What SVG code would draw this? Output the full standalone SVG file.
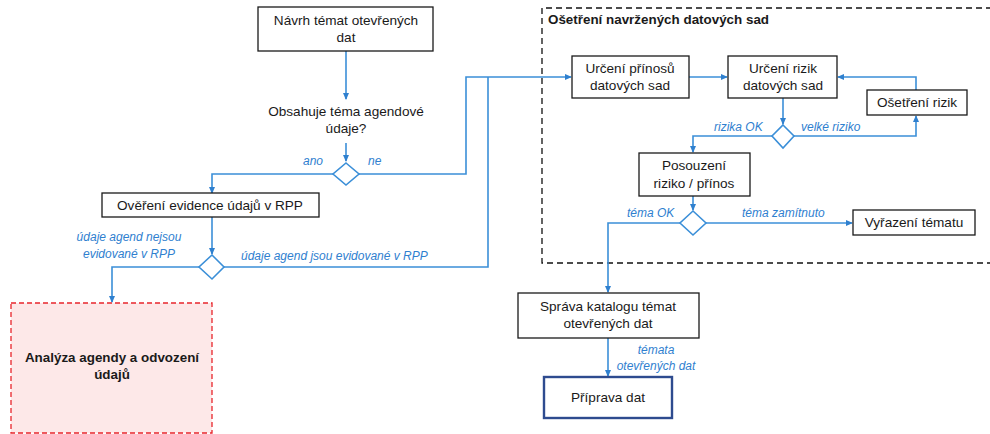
<svg xmlns="http://www.w3.org/2000/svg" width="990" height="434" viewBox="0 0 990 434">
  <defs>
    <marker id="arr" viewBox="0 0 8 8" refX="7" refY="4" markerWidth="7" markerHeight="7" markerUnits="userSpaceOnUse" orient="auto">
      <path d="M0,0.5 L8,4 L0,7.5 z" fill="#2f80cf"/>
    </marker>
    <style>
      .box { fill: #ffffff; stroke: #1a1a1a; stroke-width: 1.3; }
      .t { font-family: "Liberation Sans", Arial, sans-serif; font-size: 13.6px; fill: #1a1a1a; text-anchor: middle; }
      .tb { font-family: "Liberation Sans", Arial, sans-serif; font-size: 13.4px; font-weight: bold; fill: #1a1a1a; }
      .lbl { font-family: "Liberation Sans", Arial, sans-serif; font-size: 12px; font-style: italic; fill: #2f80cf; }
      .ln { fill: none; stroke: #3b8fd8; stroke-width: 1.6; }
      .dia { fill: #ffffff; stroke: #3b8fd8; stroke-width: 1.6; }
    </style>
  </defs>

  <!-- dashed container: treatment of proposed data sets -->
  <g id="container">
    <path d="M992,8 H542 V263 H992" fill="none" stroke="#111" stroke-width="1.3" stroke-dasharray="6,4"/>
    <text class="tb" x="548" y="24">Ošetření navržených datových sad</text>
  </g>

  <!-- connectors -->
  <g id="connectors">
    <path class="ln" d="M346,51 V99" marker-end="url(#arr)"/>
    <path class="ln" d="M346,143 V161" marker-end="url(#arr)"/>
    <path class="ln" d="M333,174 H212 V193" marker-end="url(#arr)"/>
    <path class="ln" d="M359,174 H466 V77 H571" marker-end="url(#arr)"/>
    <path class="ln" d="M212,217 V254" marker-end="url(#arr)"/>
    <path class="ln" d="M199,267 H112 V302" marker-end="url(#arr)"/>
    <path class="ln" d="M224,267 H488 V77"/>
    <path class="ln" d="M689,77 H727" marker-end="url(#arr)"/>
    <path class="ln" d="M916,90 V77 H838" marker-end="url(#arr)"/>
    <path class="ln" d="M783,98 V124" marker-end="url(#arr)"/>
    <path class="ln" d="M794,136 H916 V116" marker-end="url(#arr)"/>
    <path class="ln" d="M772,136 H693 V152" marker-end="url(#arr)"/>
    <path class="ln" d="M693,196 V210" marker-end="url(#arr)"/>
    <path class="ln" d="M706,223 H852" marker-end="url(#arr)"/>
    <path class="ln" d="M680,223 H608 V292" marker-end="url(#arr)"/>
    <path class="ln" d="M608,338 V376" marker-end="url(#arr)"/>

    <text class="lbl" x="303" y="165">ano</text>
    <text class="lbl" x="368" y="165">ne</text>
    <text class="lbl" x="129" y="241" text-anchor="middle">údaje agend nejsou</text>
    <text class="lbl" x="129" y="258" text-anchor="middle">evidované v RPP</text>
    <text class="lbl" x="241" y="260">údaje agend jsou evidované v RPP</text>
    <text class="lbl" x="714" y="131">rizika OK</text>
    <text class="lbl" x="801" y="131">velké riziko</text>
    <text class="lbl" x="627" y="217">téma OK</text>
    <text class="lbl" x="742" y="217">téma zamítnuto</text>
    <text class="lbl" x="656" y="354" text-anchor="middle">témata</text>
    <text class="lbl" x="656" y="370" text-anchor="middle">otevřených dat</text>
  </g>

  <g id="n-navrh">
    <rect class="box" x="258" y="7" width="175" height="44"/>
    <text class="t" x="346" y="25">Návrh témat otevřených</text>
    <text class="t" x="346" y="42">dat</text>
  </g>

  <g id="n-otazka">
    <text class="t" x="346" y="116">Obsahuje téma agendové</text>
    <text class="t" x="346" y="133">údaje?</text>
  </g>

  <g id="d-agendove">
    <polygon class="dia" points="346,163 359,174 346,185 333,174"/>
  </g>

  <g id="n-overeni">
    <rect class="box" x="102" y="193" width="217" height="24"/>
    <text class="t" x="210" y="210">Ověření evidence údajů v RPP</text>
  </g>

  <g id="d-rpp">
    <polygon class="dia" points="212,255 224,267 212,279 199,267"/>
  </g>

  <g id="n-analyza">
    <rect x="11" y="303" width="201" height="130" fill="#fde8e8" stroke="#e8262c" stroke-width="1.3" stroke-dasharray="5,3"/>
    <text class="tb" x="112" y="362" text-anchor="middle">Analýza agendy a odvození</text>
    <text class="tb" x="112" y="379" text-anchor="middle">údajů</text>
  </g>

  <g id="n-prinosy">
    <rect class="box" x="572" y="56" width="117" height="42"/>
    <text class="t" x="630" y="73">Určení přínosů</text>
    <text class="t" x="630" y="90">datových sad</text>
  </g>

  <g id="n-rizika">
    <rect class="box" x="728" y="56" width="109" height="42"/>
    <text class="t" x="783" y="73">Určení rizik</text>
    <text class="t" x="783" y="90">datových sad</text>
  </g>

  <g id="n-osetreni">
    <rect class="box" x="867" y="90" width="100" height="25"/>
    <text class="t" x="917" y="107">Ošetření rizik</text>
  </g>

  <g id="d-rizika">
    <polygon class="dia" points="783,125 794,136 783,148 772,136"/>
  </g>

  <g id="n-posouzeni">
    <rect class="box" x="639" y="153" width="111" height="43"/>
    <text class="t" x="694" y="170">Posouzení</text>
    <text class="t" x="694" y="188">riziko / přínos</text>
  </g>

  <g id="d-tema">
    <polygon class="dia" points="693,211 706,223 693,235 680,223"/>
  </g>

  <g id="n-vyrazeni">
    <rect class="box" x="853" y="210" width="122" height="25"/>
    <text class="t" x="914" y="227">Vyřazení tématu</text>
  </g>

  <g id="n-sprava">
    <rect class="box" x="518" y="293" width="181" height="45"/>
    <text class="t" x="608" y="311">Správa katalogu témat</text>
    <text class="t" x="608" y="328">otevřených dat</text>
  </g>

  <g id="n-priprava">
    <rect x="544" y="377" width="128" height="41" fill="#ffffff" stroke="#2e4b8f" stroke-width="2.4"/>
    <text class="t" x="608" y="402">Příprava dat</text>
  </g>
</svg>
